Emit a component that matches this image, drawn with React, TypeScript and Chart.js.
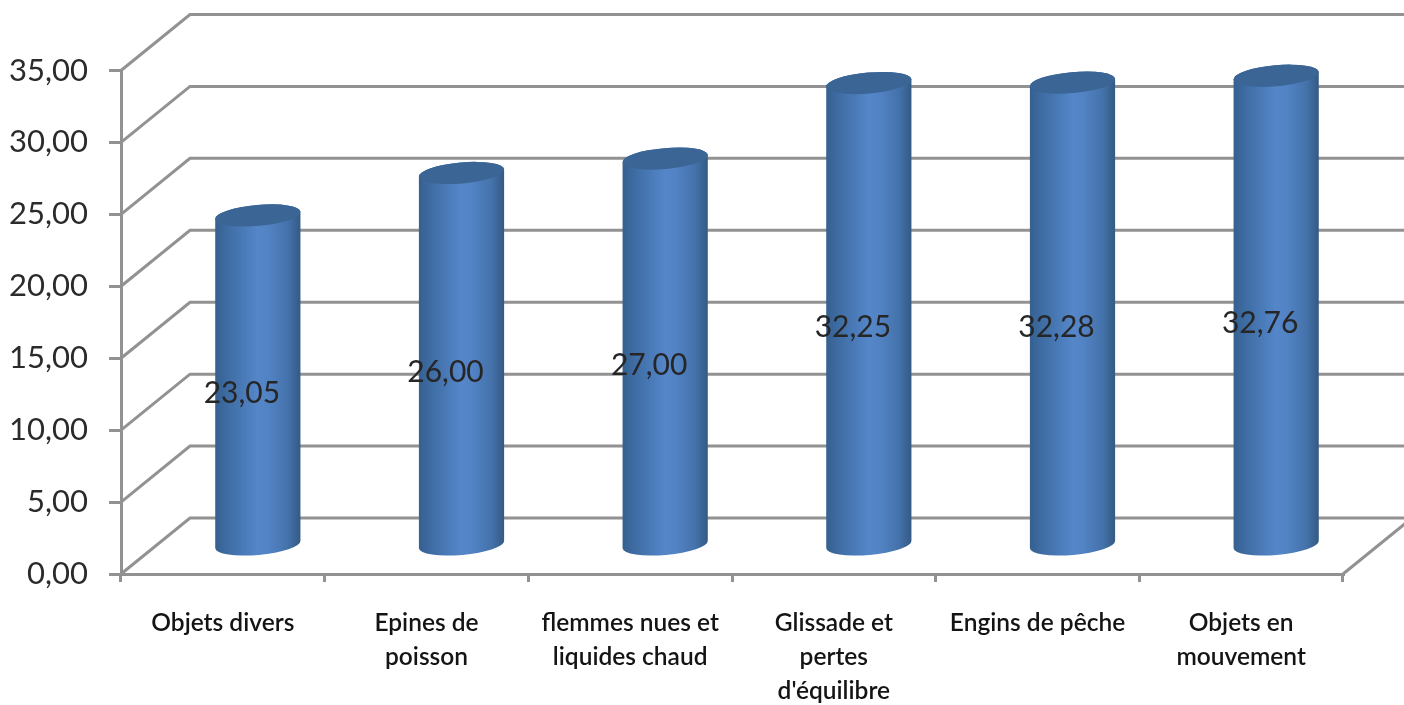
import React, { useEffect, useRef } from "react";
import { Chart, registerables } from "chart.js";

Chart.register(...registerables);

const categories = [
  ["Objets divers"],
  ["Epines de", "poisson"],
  ["flemmes nues et", "liquides chaud"],
  ["Glissade et", "pertes", "d'équilibre"],
  ["Engins de pêche"],
  ["Objets en", "mouvement"],
];
const values = [23.05, 26.0, 27.0, 32.25, 32.28, 32.76];
const valueLabels = ["23,05", "26,00", "27,00", "32,25", "32,28", "32,76"];

const GRID = "#929292";
const DEPTH_X = 69;
const DEPTH_Y = -56;
const TILT = (-5 * Math.PI) / 180;
const CAP_B = 10.5;

const scene3d = {
  id: "scene3d",
  beforeDatasetsDraw(chart: any) {
    const { ctx, scales } = chart;
    const y = scales.y;
    const left = y.right;
    const right = chart.chartArea.right;
    const bottom = chart.chartArea.bottom;
    ctx.save();
    ctx.strokeStyle = GRID;
    ctx.lineWidth = 3;
    ctx.lineJoin = "miter";
    y.ticks.forEach((t: any) => {
      const py = y.getPixelForValue(t.value);
      ctx.beginPath();
      ctx.moveTo(left, py);
      ctx.lineTo(left + DEPTH_X, py + DEPTH_Y);
      ctx.lineTo(right + DEPTH_X, py + DEPTH_Y);
      ctx.stroke();
    });
    ctx.beginPath();
    ctx.moveTo(right, bottom);
    ctx.lineTo(right + DEPTH_X, bottom + DEPTH_Y);
    ctx.stroke();
    ctx.restore();
  },
  beforeDatasetDraw(chart: any, args: any) {
    const { ctx } = chart;
    const meta = chart.getDatasetMeta(args.index);
    meta.data.forEach((bar: any) => {
      const cx = bar.x + DEPTH_X / 2 + 0.5;
      const a = bar.width / 2;
      const ty = bar.y + DEPTH_Y / 2 + 1;
      const by = bar.base + DEPTH_Y / 2;
      const g = ctx.createLinearGradient(cx - a, 0, cx + a, 0);
      g.addColorStop(0, "#35608f");
      g.addColorStop(0.14, "#3e6ca3");
      g.addColorStop(0.5, "#5486c9");
      g.addColorStop(0.62, "#5283c4");
      g.addColorStop(0.85, "#4472ab");
      g.addColorStop(1, "#345a84");
      ctx.save();
      ctx.fillStyle = g;
      ctx.beginPath();
      ctx.ellipse(cx, by, a, CAP_B, TILT, 0, Math.PI, false);
      ctx.lineTo(cx - a * Math.cos(TILT), ty - a * Math.sin(TILT));
      ctx.ellipse(cx, ty, a, CAP_B, TILT, Math.PI, 2 * Math.PI, false);
      ctx.closePath();
      ctx.fill();
      ctx.fillStyle = "#3a6594";
      ctx.beginPath();
      ctx.ellipse(cx, ty, a, CAP_B, TILT, 0, 2 * Math.PI);
      ctx.fill();
      ctx.restore();
    });
    return false;
  },
  afterDatasetsDraw(chart: any) {
    const { ctx } = chart;
    const meta = chart.getDatasetMeta(0);
    ctx.save();
    ctx.fillStyle = "#262626";
    ctx.font = "30px Lato";
    ctx.textAlign = "center";
    ctx.textBaseline = "middle";
    meta.data.forEach((bar: any, i: number) => {
      ctx.fillText(valueLabels[i], bar.x + 19, (bar.y + bar.base) / 2 - 14);
    });
    ctx.restore();
  },
};

export default function App() {
  const ref = useRef<HTMLCanvasElement>(null);
  useEffect(() => {
    const chart = new Chart(ref.current as HTMLCanvasElement, {
      type: "bar",
      data: {
        labels: categories,
        datasets: [
          {
            data: values,
            backgroundColor: "#4f81bd",
            categoryPercentage: 1,
            barPercentage: 0.42,
          },
        ],
      },
      options: {
        animation: false,
        responsive: false,
        layout: { padding: { top: 70.5, right: 61, left: 0, bottom: 0 } },
        plugins: { legend: { display: false }, tooltip: { enabled: false } },
        scales: {
          x: {
            afterFit(s: any) {
              s.height = 131;
            },
            border: { color: GRID, width: 3 },
            grid: { drawOnChartArea: false, drawTicks: true, tickLength: 8, color: GRID, lineWidth: 3 },
            ticks: {
              autoSkip: false,
              maxRotation: 0,
              minRotation: 0,
              padding: 24,
              color: "#141414",
              font: { family: "Lato", size: 24.5, weight: 600, lineHeight: 1.39 },
            },
          },
          y: {
            min: 0,
            max: 35,
            afterFit(s: any) {
              s.width = 121;
            },
            border: { color: GRID, width: 3 },
            grid: { drawOnChartArea: false, drawTicks: true, tickLength: 12, color: GRID, lineWidth: 3 },
            ticks: {
              stepSize: 5,
              padding: 21,
              color: "#2b2b2b",
              font: { family: "Lato", size: 31 },
              callback: (v: any) => Number(v).toFixed(2).replace(".", ","),
            },
          },
        },
      },
      plugins: [scene3d],
    } as any);
    return () => chart.destroy();
  }, []);
  return (
    <div style={{ position: "absolute", left: 0, top: 0, width: 1404, height: 705, overflow: "hidden", background: "#fff" }}>
      <canvas ref={ref} width={1404} height={705} style={{ display: "block" }} />
    </div>
  );
}
